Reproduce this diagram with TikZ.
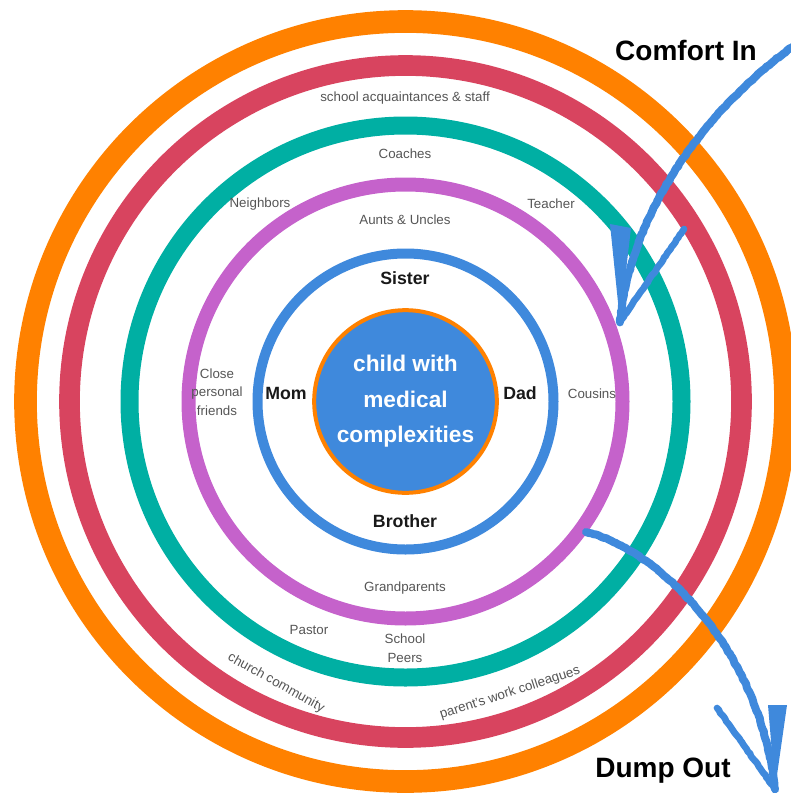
\documentclass[tikz,border=0pt]{standalone}
\usepackage{fontspec}
\setmainfont{Liberation Sans}
\usetikzlibrary{decorations.pathmorphing}
\definecolor{ringorange}{HTML}{FF8100}
\definecolor{ringred}{HTML}{D8445F}
\definecolor{ringteal}{HTML}{00AFA3}
\definecolor{ringpurple}{HTML}{C562CB}
\definecolor{ringblue}{HTML}{3F89DC}
\definecolor{labelgray}{HTML}{555555}
\tikzset{
  ring/.style={draw=#1},
  lbl/.style={
    font=\fontsize{10}{14}\selectfont,
    text=labelgray,
    align=center,
    inner sep=0pt},
  fam/.style={
    font=\fontsize{13.3}{16}\selectfont\bfseries,
    text=black!90,
    inner sep=0pt},
  core/.style={
    circle,
    fill=ringblue,
    draw=ringorange, line width=3pt,
    minimum size=137pt,
    text=white,
    align=center,
    font=\fontsize{17}{26.6}\selectfont\bfseries},
  headline/.style={
    font=\fontsize{21}{24}\selectfont\bfseries,
    inner sep=0pt},
  brush/.style={
    draw=ringblue, line width=6pt,
    line cap=round, line join=round,
    decorate,
    decoration={random steps, segment length=2pt, amplitude=0.35pt}},
}
\begin{document}
\begin{tikzpicture}[x=0.75pt,y=-0.75pt]
  \useasboundingbox (0,0) rectangle (791,793);
  \clip (0,0) rectangle (791,793);

  % the rings, outside in
  \coordinate (c) at (405.5,401.5);
  \draw[ring=ringorange, line width=17pt] (c) circle (380);
  \draw[ring=ringred, line width=15.5pt] (c) circle (336);
  \draw[ring=ringteal, line width=13.5pt] (c) circle (276);
  \draw[ring=ringpurple, line width=10.5pt] (c) circle (217);
  \draw[ring=ringblue, line width=7.5pt] (c) circle (148);

  \node[core] (child) at (c) {child with\\medical\\complexities};

  % family
  \node[fam] (sister) at (405,278) {Sister};
  \node[fam] (mom) at (286,393) {Mom};
  \node[fam] (dad) at (520,393) {Dad};
  \node[fam] (brother) at (405,521) {Brother};

  % relatives and friends
  \node[lbl] (aunts) at (405,220) {Aunts \& Uncles};
  \node[lbl] (friends) at (217,392) {Close\\personal\\friends};
  \node[lbl] (cousins) at (592,394) {Cousins};
  \node[lbl] (grandparents) at (405,588) {Grandparents};

  % community
  \node[lbl] (coaches) at (405,154) {Coaches};
  \node[lbl] (neighbors) at (260,204) {Neighbors};
  \node[lbl] (teacher) at (551,204) {Teacher};
  \node[lbl] (pastor) at (309,630) {Pastor};
  \node[lbl, text depth=0pt] (peers) at (405,648) {School\\Peers};

  % outer acquaintances
  \node[lbl] (acquaint) at (405,98) {school acquaintances \& staff};
  \node[lbl, rotate=-29] (church) at (276,683) {church community};
  \node[lbl, rotate=18] (colleagues) at (510,693) {parent's work colleagues};

  % arrows
  \node[headline] (comfort) at (686,50) {Comfort In};
  \node[headline] (dump) at (663,771) {Dump Out};

  \coordinate (inStart) at (805,38);
  \coordinate (inTip) at (620,322);
  \draw[brush] (inStart) .. controls (720,95) and (632,200) .. (inTip);
  \fill[ringblue] (inTip) -- (610,224) -- (631,228) -- cycle;
  \draw[brush, line width=5pt] (684,229) -- (inTip);

  \coordinate (outStart) at (586,532);
  \coordinate (outTip) at (775,789);
  \draw[brush] (outStart) .. controls (660,550) and (760,650) .. (outTip);
  \fill[ringblue] (outTip) -- (768,705) -- (787,705) -- cycle;
  \draw[brush, line width=5pt] (717,708) -- (outTip);
\end{tikzpicture}
\end{document}
